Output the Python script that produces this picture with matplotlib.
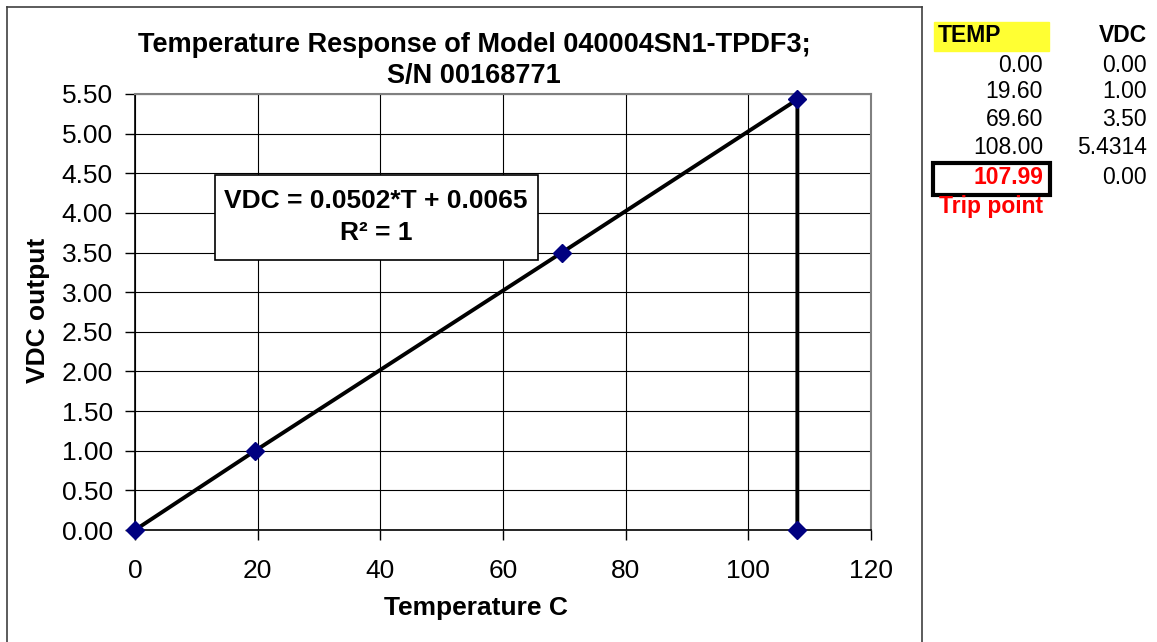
import matplotlib
matplotlib.use("Agg")
import matplotlib.pyplot as plt
from matplotlib.patches import Rectangle
from matplotlib.lines import Line2D

plt.rcParams['font.family'] = ['Liberation Sans', 'DejaVu Sans']

# данные графика
temp = [0.0, 19.6, 69.6, 108.0, 107.99]
vdc = [0.0, 1.0, 3.5, 5.4314, 0.0]

# таблица справа
temp_labels = ['0.00', '19.60', '69.60', '108.00', '107.99']
vdc_labels = ['0.00', '1.00', '3.50', '5.4314', '0.00']

x_ticks = [0, 20, 40, 60, 80, 100, 120]
y_ticks = [0.0, 0.5, 1.0, 1.5, 2.0, 2.5, 3.0, 3.5, 4.0, 4.5, 5.0, 5.5]

W, H = 1157, 642
FS = 19


def fx(x):
    return x / W


def fy(y):
    return 1 - y / H


fig = plt.figure(figsize=(W / 100, H / 100), dpi=100)
ax = fig.add_axes([fx(135), fy(530), 736 / W, 436 / H])

ax.plot(temp, vdc, color='black', lw=2.8, zorder=3)
ax.plot(temp, vdc, ls='none', marker='D', ms=9.5, color='#000080', zorder=4,
        clip_on=False)

ax.set_xlim(0, 120)
ax.set_ylim(0, 5.5)
ax.set_xticks(x_ticks)
ax.set_yticks(y_ticks)
ax.set_yticklabels([f'{v:.2f}' for v in y_ticks])
ax.grid(True, color='black', lw=0.8)
ax.set_axisbelow(True)
ax.tick_params(labelsize=FS, length=7, width=1, direction='out')
ax.tick_params(axis='x', pad=14)
ax.tick_params(axis='y', pad=9)
for s in ['top', 'right']:
    ax.spines[s].set_color('#808080')
    ax.spines[s].set_linewidth(1.5)
for s in ['left', 'bottom']:
    ax.spines[s].set_linewidth(1.2)

fig.text(fx(476), fy(608), 'Temperature C', fontsize=FS, fontweight='bold',
         ha='center', va='center')
fig.text(fx(38), fy(310), 'VDC output', fontsize=FS, fontweight='bold',
         ha='center', va='center', rotation=90)
fig.text(fx(474), fy(61), 'Temperature Response of Model 040004SN1-TPDF3;\nS/N 00168771',
         fontsize=19.5, fontweight='bold', ha='center', va='center', linespacing=1.25)

# уравнение тренда
fig.add_artist(Rectangle((fx(215), fy(260)), 323 / W, 85 / H,
                         fc='white', ec='black', lw=1.2, zorder=5))
fig.text(fx(376), fy(217), 'VDC = 0.0502*T + 0.0065\nR² = 1',
         ha='center', va='center', fontsize=FS, fontweight='bold',
         linespacing=1.45, zorder=6)

# рамка области диаграммы
for xs, ys in [([7, 7], [7, H]), ([7, 922], [7, 7]), ([922, 922], [7, H])]:
    fig.add_artist(Line2D([fx(x) for x in xs], [fy(y) for y in ys],
                          color='#404040', lw=1.2))

# таблица
TS = 16.5
fig.add_artist(Rectangle((fx(934), fy(51)), 115 / W, 29 / H,
                         color='#ffff33', zorder=0))
fig.text(fx(938), fy(36), 'TEMP', fontsize=TS, fontweight='bold', va='center')
fig.text(fx(1147), fy(36), 'VDC', fontsize=TS, fontweight='bold',
         va='center', ha='right')
row_y = [65, 92, 119, 147, 178]
for i, y in enumerate(row_y):
    c = 'red' if i == 4 else 'black'
    fw = 'bold' if i == 4 else 'normal'
    fig.text(fx(1043), fy(y), temp_labels[i], fontsize=TS, va='center',
             ha='right', color=c, fontweight=fw)
    fig.text(fx(1147), fy(y), vdc_labels[i], fontsize=TS, va='center',
             ha='right')
fig.add_artist(Rectangle((fx(933), fy(195)), 117 / W, 32 / H,
                         fill=False, ec='black', lw=3))
fig.text(fx(1043), fy(207), 'Trip point', fontsize=TS, fontweight='bold',
         color='red', va='center', ha='right')

fig.savefig('out.png', dpi=100)
